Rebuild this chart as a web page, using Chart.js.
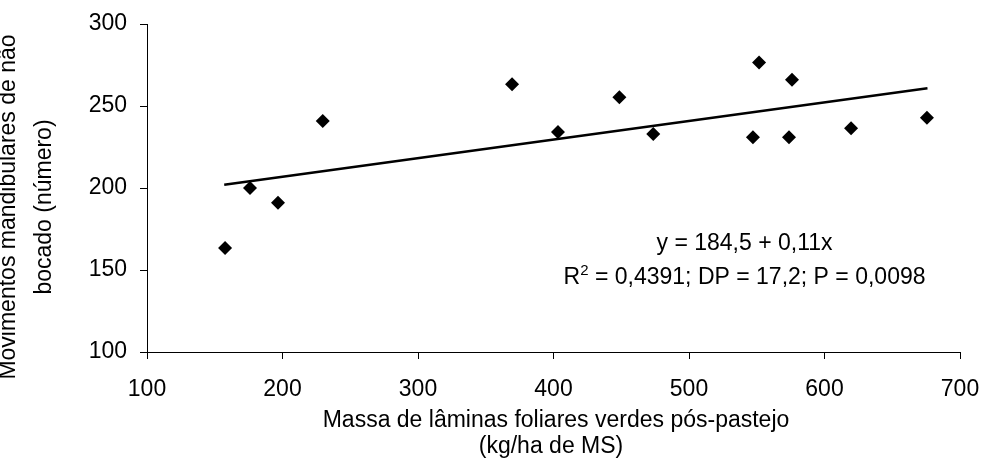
<!DOCTYPE html>
<html lang="pt">
<head>
  <meta charset="UTF-8">
  <title>Movimentos mandibulares</title>
  <script src="https://cdn.jsdelivr.net/npm/chart.js"></script>
  <style>
    html, body { margin: 0; padding: 0; background: #fff; }
    #wrap { width: 983px; height: 465px; }
  </style>
</head>
<body>
  <div id="wrap"><canvas id="chart" width="983" height="465"></canvas></div>

  <script>
    // massa de laminas (kg/ha de MS) e movimentos (numero)
    const massaX = [157.6, 176, 196.7, 229.7, 369.4, 403.3, 448.6, 473.6, 547.2, 551.7, 573.8, 576, 619.6, 675.6];
    const movimentosY = [163.4, 200, 191, 240.9, 263.2, 234.1, 255.3, 232.9, 230.9, 276.6, 230.9, 266, 236.4, 242.9];

    // reta ajustada (pontas)
    const retaX = [157, 676];
    const retaY = [202, 260.8];

    const xTicks = [100, 200, 300, 400, 500, 600, 700];
    const yTicks = [100, 150, 200, 250, 300];

    const xTitle = ["Massa de lâminas foliares verdes pós-pastejo", "(kg/ha de MS)"];
    const yTitle = ["Movimentos mandibulares de não", "bocado (número)"];
    const eqLine1 = "y = 184,5 + 0,11x";
    const eqLine2 = " = 0,4391; DP = 17,2; P = 0,0098";

    const FONT = "'Liberation Sans', Arial, sans-serif";

    const pontos = massaX.map((x, i) => ({ x: x, y: movimentosY[i] }));
    const reta = retaX.map((x, i) => ({ x: x, y: retaY[i] }));

    // titulos e equacao desenhados a mao
    const textosPlugin = {
      id: 'textos',
      afterDraw(chart) {
        const ctx = chart.ctx;
        const xs = chart.scales.x, ys = chart.scales.y;
        ctx.save();
        ctx.fillStyle = '#000';
        ctx.font = '23px ' + FONT;
        ctx.textBaseline = 'alphabetic';

        // titulo eixo x
        ctx.textAlign = 'center';
        ctx.fillText(xTitle[0], 556, 427);
        ctx.fillText(xTitle[1], 551, 453);

        // titulo eixo y (duas linhas, a primeira cortada na borda)
        ctx.save();
        ctx.translate(0, 207);
        ctx.rotate(-Math.PI / 2);
        ctx.textAlign = 'center';
        ctx.fillText(yTitle[0], 0, 14.5);
        ctx.fillText(yTitle[1], 0, 50.5);
        ctx.restore();

        // equacao
        const cx = xs.getPixelForValue(541);
        const y1 = ys.getPixelForValue(162.2);
        const y2 = ys.getPixelForValue(141.5);
        ctx.textAlign = 'center';
        ctx.fillText(eqLine1, cx, y1);

        ctx.textAlign = 'left';
        const wR = ctx.measureText('R').width;
        const wRest = ctx.measureText(eqLine2).width;
        ctx.font = '15px ' + FONT;
        const w2 = ctx.measureText('2').width;
        const total = wR + w2 + wRest;
        let x0 = cx - total / 2;
        ctx.font = '23px ' + FONT;
        ctx.fillText('R', x0, y2);
        ctx.font = '15px ' + FONT;
        ctx.fillText('2', x0 + wR, y2 - 9);
        ctx.font = '23px ' + FONT;
        ctx.fillText(eqLine2, x0 + wR + w2, y2);
        ctx.restore();
      }
    };

    new Chart(document.getElementById('chart'), {
      type: 'scatter',
      data: {
        datasets: [{
          data: pontos,
          pointStyle: 'rectRot',
          pointRadius: 7,
          pointHoverRadius: 7,
          backgroundColor: '#000',
          borderColor: '#000',
          borderWidth: 0
        }, {
          type: 'line',
          data: reta,
          borderColor: '#000',
          borderWidth: 2.5,
          pointRadius: 0,
          fill: false
        }]
      },
      options: {
        responsive: false,
        animation: false,
        events: [],
        layout: { padding: { left: 0, right: 23, top: 24, bottom: 0 } },
        plugins: {
          legend: { display: false },
          tooltip: { enabled: false }
        },
        scales: {
          x: {
            type: 'linear',
            min: 100,
            max: 700,
            afterBuildTicks: s => { s.ticks = xTicks.map(v => ({ value: v })); },
            afterFit: s => { s.height = 113; s.paddingLeft = 0; s.paddingRight = 0; },
            ticks: { color: '#000', font: { family: FONT, size: 23 }, padding: 17, maxRotation: 0 },
            grid: { drawOnChartArea: false, drawTicks: true, tickLength: 7, tickColor: '#000', tickWidth: 1 },
            border: { display: true, color: '#000', width: 1 }
          },
          y: {
            min: 100,
            max: 300,
            afterBuildTicks: s => { s.ticks = yTicks.map(v => ({ value: v })); },
            afterFit: s => { s.width = 147; s.paddingTop = 0; s.paddingBottom = 0; },
            ticks: { color: '#000', font: { family: FONT, size: 23 }, padding: 13 },
            grid: { drawOnChartArea: false, drawTicks: true, tickLength: 7, tickColor: '#000', tickWidth: 1 },
            border: { display: true, color: '#000', width: 1 }
          }
        }
      },
      plugins: [textosPlugin]
    });
  </script>
</body>
</html>
